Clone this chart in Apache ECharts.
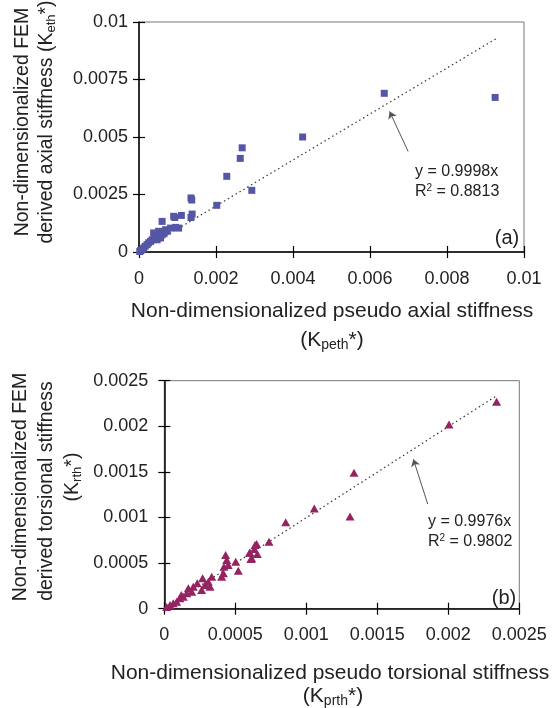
<!DOCTYPE html>
<html>
<head>
<meta charset="utf-8">
<style>html,body{margin:0;padding:0;background:#fff}#c{width:554px;height:708px}</style>
<script src="https://cdn.jsdelivr.net/npm/echarts@6/dist/echarts.min.js"></script>
</head>
<body>
<div id="c"></div>
<script>
// (a) axial stiffness: pseudo (x) vs FEM-derived (y)
var axialPseudo = [0.00002,0.00004,0.00008,0.00012,0.00016,0.00021,0.00025,0.0003,0.00034,0.00038,0.0004,0.00043,0.00047,0.00051,0.00056,0.0006,0.0006,0.00065,0.00069,0.00073,0.00082,0.0009,0.00093,0.00095,0.00103,0.0011,0.00135,0.00137,0.00138,0.00135,0.00202,0.00228,0.00263,0.00268,0.00293,0.00425,0.00637,0.00925];
var axialFEM    = [0.00002,0.00006,0.0001,0.00017,0.00025,0.00032,0.0004,0.00046,0.00053,0.00083,0.0006,0.00068,0.00053,0.0009,0.00061,0.00075,0.00133,0.0008,0.00097,0.0009,0.00104,0.00155,0.0015,0.00107,0.00104,0.00159,0.00235,0.00226,0.00165,0.0015,0.00203,0.00329,0.00407,0.00453,0.00268,0.005,0.0069,0.00672];
// (b) torsional stiffness: pseudo (x) vs FEM-derived (y)
var torsPseudo = [0.000017,0.00004,0.000063,0.000087,0.00011,0.00012,0.000134,0.000158,0.000169,0.000193,0.000204,0.000232,0.000263,0.00027,0.000287,0.00031,0.000322,0.000334,0.000404,0.000416,0.00042,0.000432,0.00044,0.00045,0.000503,0.000521,0.0006,0.00061,0.000604,0.000615,0.000634,0.000639,0.00065,0.000655,0.000737,0.000855,0.001056,0.001308,0.001336,0.002005,0.00234];
var torsFEM    = [0.00002,0.00004,0.000059,0.000077,0.000114,0.00015,0.000132,0.000169,0.000224,0.000186,0.000241,0.000278,0.000205,0.000333,0.00026,0.000296,0.000241,0.000351,0.000351,0.000388,0.00046,0.000589,0.000534,0.000479,0.000515,0.000417,0.000614,0.000545,0.000614,0.000553,0.000655,0.000698,0.00071,0.0006,0.000735,0.000947,0.0011,0.00101,0.00149,0.00202,0.00227];
// trend lines (end points)
var trendA = [[0, 0], [0.00927, 0.00927]];
var trendB = [[0, 0], [0.00234, 0.002335]];
// annotation arrows (tail -> head, in data units)
var arrowA = [[0.00699, 0.00437], [0.00651, 0.00611]];
var arrowB = [[0.001855, 0.001148], [0.001754, 0.001638]];
// tick labels
var xTicksA = ['0','0.002','0.004','0.006','0.008','0.01'];
var yTicksA = ['0','0.0025','0.005','0.0075','0.01'];
var xTicksB = ['0','0.0005','0.001','0.0015','0.002','0.0025'];
var yTicksB = ['0','0.0005','0.001','0.0015','0.002','0.0025'];
var eqA = ['y = 0.9998x', '0.8813'];
var eqB = ['y = 0.9976x', '0.9802'];

function zip(a, b){ return a.map(function(v,i){ return [v, b[i]]; }); }

var FF = '"Liberation Sans", Arial, sans-serif';
var TXT = '#222';

function mainX(grid, max, interval, ticks, margin){
  return {gridIndex: grid, type:'value', min:0, max:max, interval:interval, position:'bottom',
    axisLine:{show:true, onZero:false, lineStyle:{color:'#000', width:1.5}},
    axisTick:{show:true, inside:false, length:6, lineStyle:{color:'#000', width:1.2}},
    axisLabel:{margin:margin, fontSize:18, fontFamily:FF, color:TXT, formatter:function(v,i){return ticks[i];}},
    splitLine:{show:false}};
}
function innerX(grid, max, interval){
  return {gridIndex: grid, type:'value', min:0, max:max, interval:interval, position:'bottom',
    axisLine:{show:false}, axisLabel:{show:false}, splitLine:{show:false},
    axisTick:{show:true, inside:true, length:6, lineStyle:{color:'#000', width:1.2}}};
}
function mainY(grid, max, interval, ticks, margin){
  return {gridIndex: grid, type:'value', min:0, max:max, interval:interval, position:'left',
    axisLine:{show:true, onZero:false, lineStyle:{color:'#000', width:1.5}},
    axisTick:{show:true, inside:false, length:6, lineStyle:{color:'#000', width:1.2}},
    axisLabel:{margin:margin, fontSize:18, fontFamily:FF, color:TXT, formatter:function(v,i){return ticks[i];}},
    splitLine:{show:false}};
}
function innerY(grid, max, interval){
  return {gridIndex: grid, type:'value', min:0, max:max, interval:interval, position:'left',
    axisLine:{show:false}, axisLabel:{show:false}, splitLine:{show:false},
    axisTick:{show:true, inside:true, length:6, lineStyle:{color:'#000', width:1.2}}};
}

var richK = {
  n:{fontSize:21, fontFamily:FF, color:TXT, lineHeight:24},
  s:{fontSize:14, fontFamily:FF, color:TXT, lineHeight:12, verticalAlign:'bottom'}
};
var richKy = {
  n:{fontSize:19.5, fontFamily:FF, color:TXT, lineHeight:22},
  s:{fontSize:13, fontFamily:FF, color:TXT, lineHeight:11, verticalAlign:'bottom'}
};
var richR = {
  n:{fontSize:16, fontFamily:FF, color:TXT, lineHeight:18},
  p:{fontSize:10, fontFamily:FF, color:TXT, lineHeight:10, verticalAlign:'top'}
};

function txt(x, y, text, size, rot, rich){
  var st = {text:text, fill:TXT, font: size + 'px ' + FF, textAlign:'center', textVerticalAlign:'middle', align:'center', verticalAlign:'middle'};
  if (rich) st.rich = rich;
  return {type:'text', x:x, y:y, rotation: rot || 0, style: st, z:100};
}
function ltxt(x, y, text, size, rich){
  var st = {text:text, fill:TXT, font: size + 'px ' + FF, textAlign:'left', textVerticalAlign:'middle', align:'left', verticalAlign:'middle'};
  if (rich) st.rich = rich;
  return {type:'text', x:x, y:y, style: st, z:100};
}
function arrow(pts){
  return {silent:true, symbol:['none','arrow'], symbolSize:7, precision:6,
    label:{show:false}, itemStyle:{color:'#444'},
    lineStyle:{color:'#555', width:1, type:'solid'},
    data:[[{coord:pts[0]}, {coord:pts[1]}]]};
}

var R90 = Math.PI/2;

var option = {
  animation:false,
  backgroundColor:'#fff',
  grid:[
    {left:139, top:22, width:385, height:230, show:true, borderColor:'#777', borderWidth:1, backgroundColor:'transparent'},
    {left:164.3, top:380.7, width:355, height:228, show:true, borderColor:'#777', borderWidth:1, backgroundColor:'transparent'}
  ],
  xAxis:[
    mainX(0, 0.01, 0.002, xTicksA, 18), innerX(0, 0.01, 0.002),
    mainX(1, 0.0025, 0.0005, xTicksB, 17), innerX(1, 0.0025, 0.0005)
  ],
  yAxis:[
    mainY(0, 0.01, 0.0025, yTicksA, 11), innerY(0, 0.01, 0.0025),
    mainY(1, 0.0025, 0.0005, yTicksB, 16), innerY(1, 0.0025, 0.0005)
  ],
  series:[
    {type:'line', xAxisIndex:0, yAxisIndex:0, data:trendA, symbol:'none', silent:true,
      lineStyle:{color:'#333', width:1.2, type:[1.5,3]}, z:1, markLine:arrow(arrowA)},
    {type:'scatter', xAxisIndex:0, yAxisIndex:0, data:zip(axialPseudo, axialFEM), symbol:'rect', symbolSize:7,
      itemStyle:{color:'#5656a6', opacity:1}, z:3},
    {type:'line', xAxisIndex:2, yAxisIndex:2, data:trendB, symbol:'none', silent:true,
      lineStyle:{color:'#333', width:1.2, type:[1.5,3]}, z:1, markLine:arrow(arrowB)},
    {type:'scatter', xAxisIndex:2, yAxisIndex:2, data:zip(torsPseudo, torsFEM), symbol:'triangle', symbolSize:[9,8],
      itemStyle:{color:'#962361', opacity:1}, z:3}
  ],
  graphic:[
    // top chart titles
    txt(23, 122, 'Non-dimensionalized FEM', 19.5, R90),
    txt(47, 122, '{n|derived axial stiffness (K}{s|eth}{n|*)}', 19.5, R90, richKy),
    txt(332, 311, 'Non-dimensionalized pseudo axial stiffness', 21, 0),
    txt(332, 340, '{n|(K}{s|peth}{n|*)}', 21, 0, richK),
    ltxt(415, 172, eqA[0], 16),
    ltxt(415, 192, '{n|R}{p|2}{n| = ' + eqA[1] + '}', 16, richR),
    txt(507, 238, '(a)', 20, 0),
    // bottom chart titles
    txt(21, 487, 'Non-dimensionalized FEM', 19.5, R90),
    txt(47, 491, 'derived torsional stiffness', 19.5, R90),
    txt(73, 477, '{n|(K}{s|rth}{n|*)}', 19.5, R90, richKy),
    txt(330, 673, 'Non-dimensionalized pseudo torsional stiffness', 21, 0),
    txt(333, 696, '{n|(K}{s|prth}{n|*)}', 21, 0, richK),
    ltxt(428, 522, eqB[0], 16),
    ltxt(428, 542, '{n|R}{p|2}{n| = ' + eqB[1] + '}', 16, richR),
    txt(504, 598, '(b)', 20, 0)
  ]
};

var chart = echarts.init(document.getElementById('c'), null, {renderer:'canvas'});
chart.setOption(option);
</script>
</body>
</html>
